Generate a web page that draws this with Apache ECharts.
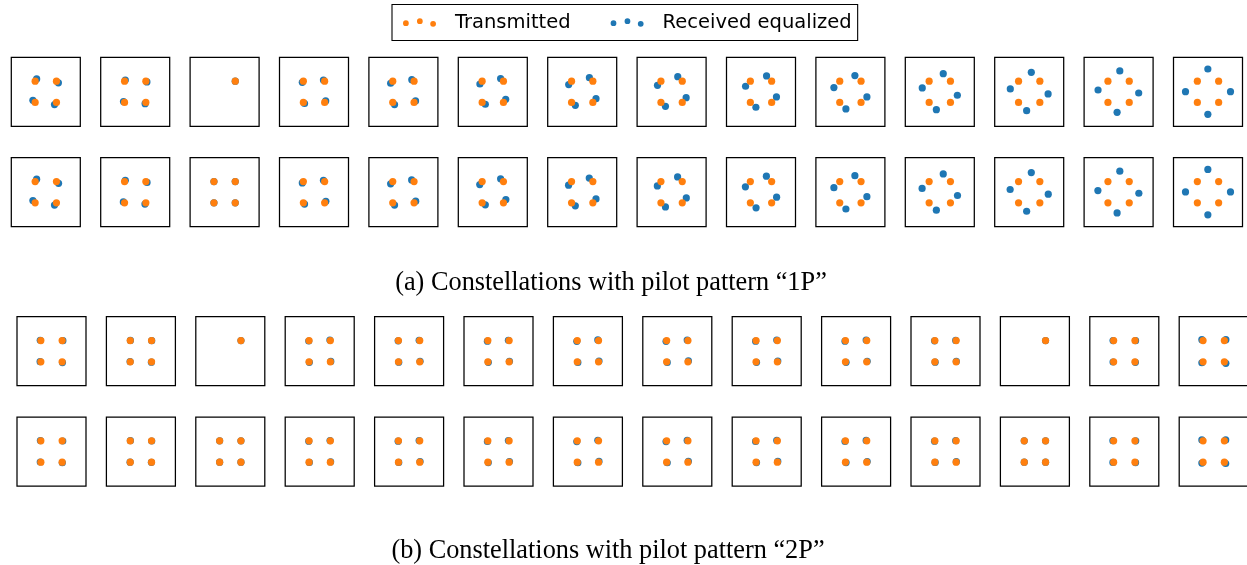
<!DOCTYPE html>
<html>
<head>
<meta charset="utf-8">
<script src="https://cdn.jsdelivr.net/npm/echarts@6/dist/echarts.min.js"></script>
<style>
  html, body { margin: 0; padding: 0; background: #fff; }
  #chart { width: 1247px; height: 565px; }
</style>
</head>
<body>
<div id="chart"></div>
<script>
// QPSK reference points and the single-symbol (pilot) slot
const txQPSK = [[-0.71, 0.71], [0.71, 0.71], [-0.71, -0.71], [0.71, -0.71]];
const txPilot = [[0.71, 0.71]];

// Transmitted symbols per panel (14 panels per row)
const txRowA1 = [txQPSK, txQPSK, txPilot, txQPSK, txQPSK, txQPSK, txQPSK, txQPSK, txQPSK, txQPSK, txQPSK, txQPSK, txQPSK, txQPSK];
const txRowA2 = [txQPSK, txQPSK, txQPSK, txQPSK, txQPSK, txQPSK, txQPSK, txQPSK, txQPSK, txQPSK, txQPSK, txQPSK, txQPSK, txQPSK];
const txRowB1 = [txQPSK, txQPSK, txPilot, txQPSK, txQPSK, txQPSK, txQPSK, txQPSK, txQPSK, txQPSK, txQPSK, txPilot, txQPSK, txQPSK];
const txRowB2 = [txQPSK, txQPSK, txQPSK, txQPSK, txQPSK, txQPSK, txQPSK, txQPSK, txQPSK, txQPSK, txQPSK, txQPSK, txQPSK, txQPSK];

// Received equalized symbols, pilot pattern "1P"
const rxRowA1 = [
  [[-0.61, 0.86], [0.84, 0.60], [-0.86, -0.57], [0.58, -0.85]],
  [[-0.66, 0.78], [0.78, 0.66], [-0.78, -0.65], [0.66, -0.79]],
  [[0.71, 0.71]],
  [[-0.78, 0.63], [0.63, 0.78], [-0.63, -0.78], [0.78, -0.61]],
  [[-0.85, 0.57], [0.56, 0.81], [-0.59, -0.85], [0.81, -0.61]],
  [[-0.86, 0.52], [0.52, 0.88], [-0.50, -0.83], [0.86, -0.50]],
  [[-0.90, 0.48], [0.48, 0.94], [-0.46, -0.90], [0.92, -0.46]],
  [[-0.94, 0.43], [0.41, 1.01], [-0.41, -0.97], [0.97, -0.39]],
  [[-1.03, 0.37], [0.37, 1.06], [-0.34, -1.03], [1.03, -0.34]],
  [[-1.10, 0.28], [0.30, 1.08], [-0.30, -1.14], [1.10, -0.34]],
  [[-1.17, 0.26], [0.23, 1.21], [-0.23, -1.19], [1.17, -0.23]],
  [[-1.26, 0.19], [0.14, 1.30], [-0.17, -1.26], [1.26, -0.14]],
  [[-1.37, 0.12], [0.08, 1.39], [-0.10, -1.37], [1.34, -0.08]],
  [[-1.50, 0.01], [-0.01, 1.52], [-0.01, -1.50], [1.50, 0.01]]
];
const rxRowA2 = [
  [[-0.61, 0.87], [0.85, 0.59], [-0.86, -0.56], [0.58, -0.86]],
  [[-0.66, 0.79], [0.79, 0.65], [-0.79, -0.65], [0.65, -0.79]],
  [[-0.71, 0.71], [0.71, 0.71], [-0.71, -0.71], [0.71, -0.71]],
  [[-0.78, 0.62], [0.63, 0.79], [-0.63, -0.79], [0.79, -0.61]],
  [[-0.85, 0.56], [0.55, 0.82], [-0.59, -0.86], [0.82, -0.60]],
  [[-0.87, 0.51], [0.52, 0.89], [-0.50, -0.84], [0.87, -0.49]],
  [[-0.91, 0.47], [0.47, 0.94], [-0.46, -0.91], [0.92, -0.45]],
  [[-0.95, 0.42], [0.40, 1.02], [-0.41, -0.98], [0.98, -0.38]],
  [[-1.04, 0.36], [0.36, 1.07], [-0.33, -1.04], [1.04, -0.33]],
  [[-1.10, 0.30], [0.30, 1.10], [-0.30, -1.12], [1.10, -0.30]],
  [[-1.18, 0.25], [0.23, 1.22], [-0.23, -1.20], [1.18, -0.22]],
  [[-1.27, 0.18], [0.14, 1.31], [-0.17, -1.27], [1.27, -0.13]],
  [[-1.38, 0.11], [0.08, 1.40], [-0.10, -1.38], [1.35, -0.07]],
  [[-1.50, 0.02], [-0.01, 1.52], [-0.01, -1.51], [1.50, 0.02]]
];

// Received equalized symbols, pilot pattern "2P"
const rxRowB1 = [
  [[-0.75, 0.73], [0.76, 0.70], [-0.76, -0.70], [0.73, -0.76]],
  [[-0.70, 0.72], [0.72, 0.70], [-0.72, -0.70], [0.70, -0.73]],
  [[0.71, 0.71]],
  [[-0.73, 0.68], [0.68, 0.74], [-0.69, -0.74], [0.74, -0.68]],
  [[-0.73, 0.69], [0.67, 0.73], [-0.69, -0.73], [0.73, -0.67]],
  [[-0.74, 0.67], [0.66, 0.73], [-0.68, -0.74], [0.73, -0.67]],
  [[-0.74, 0.66], [0.66, 0.75], [-0.67, -0.75], [0.74, -0.66]],
  [[-0.75, 0.66], [0.66, 0.74], [-0.67, -0.75], [0.74, -0.65]],
  [[-0.74, 0.67], [0.67, 0.74], [-0.68, -0.74], [0.74, -0.66]],
  [[-0.74, 0.67], [0.67, 0.74], [-0.67, -0.74], [0.74, -0.67]],
  [[-0.73, 0.69], [0.68, 0.72], [-0.69, -0.73], [0.72, -0.68]],
  [[0.71, 0.71]],
  [[-0.75, 0.71], [0.75, 0.70], [-0.75, -0.72], [0.74, -0.74]],
  [[-0.79, 0.77], [0.81, 0.77], [-0.79, -0.77], [0.81, -0.81]]
];
const rxRowB2 = [
  [[-0.74, 0.73], [0.75, 0.70], [-0.75, -0.70], [0.72, -0.75]],
  [[-0.70, 0.72], [0.72, 0.70], [-0.72, -0.71], [0.70, -0.72]],
  [[-0.71, 0.71], [0.71, 0.71], [-0.71, -0.71], [0.71, -0.71]],
  [[-0.73, 0.69], [0.69, 0.73], [-0.69, -0.73], [0.73, -0.69]],
  [[-0.73, 0.69], [0.67, 0.73], [-0.69, -0.73], [0.73, -0.67]],
  [[-0.74, 0.67], [0.66, 0.73], [-0.68, -0.74], [0.73, -0.67]],
  [[-0.74, 0.66], [0.66, 0.75], [-0.67, -0.75], [0.74, -0.66]],
  [[-0.75, 0.66], [0.66, 0.74], [-0.67, -0.75], [0.74, -0.65]],
  [[-0.74, 0.67], [0.67, 0.74], [-0.68, -0.74], [0.74, -0.66]],
  [[-0.74, 0.67], [0.67, 0.74], [-0.67, -0.74], [0.74, -0.67]],
  [[-0.73, 0.69], [0.68, 0.72], [-0.69, -0.73], [0.72, -0.68]],
  [[-0.71, 0.71], [0.71, 0.71], [-0.71, -0.71], [0.71, -0.71]],
  [[-0.76, 0.72], [0.76, 0.71], [-0.76, -0.73], [0.75, -0.74]],
  [[-0.79, 0.77], [0.80, 0.77], [-0.79, -0.77], [0.80, -0.80]]
];

const seriesNames = ['Transmitted', 'Received equalized'];
const captions = ['(a) Constellations with pilot pattern \u201c1P\u201d', '(b) Constellations with pilot pattern \u201c2P\u201d'];

// ---- layout / style ----
const AXIS_LIM = 2.3;
const PANEL = 69;
const PITCH = 89.4;
const COLOR_TX = '#ff7f0e';
const COLOR_RX = '#1f77b4';
const rows = [
  { left: 11.3, top: 57.3, tx: txRowA1, rx: rxRowA1 },
  { left: 11.3, top: 157.7, tx: txRowA2, rx: rxRowA2 },
  { left: 17.0, top: 316.7, tx: txRowB1, rx: rxRowB1 },
  { left: 17.0, top: 417.0, tx: txRowB2, rx: rxRowB2 }
];

const grid = [], xAxis = [], yAxis = [], series = [];
rows.forEach(row => {
  row.tx.forEach((txPts, i) => {
    const idx = grid.length;
    grid.push({
      left: row.left + PITCH * i, top: row.top, width: PANEL, height: PANEL,
      show: true, borderColor: '#000', borderWidth: 1.25, backgroundColor: 'transparent',
      containLabel: false, outerBoundsMode: 'none'
    });
    xAxis.push({ gridIndex: idx, type: 'value', min: -AXIS_LIM, max: AXIS_LIM, show: false });
    yAxis.push({ gridIndex: idx, type: 'value', min: -AXIS_LIM, max: AXIS_LIM, show: false });
    series.push({
      type: 'scatter', name: seriesNames[1], xAxisIndex: idx, yAxisIndex: idx,
      data: row.rx[i], symbolSize: 7.2, itemStyle: { color: COLOR_RX, opacity: 1 }, silent: true
    });
    series.push({
      type: 'scatter', name: seriesNames[0], xAxisIndex: idx, yAxisIndex: idx,
      data: txPts, symbolSize: 7.2, itemStyle: { color: COLOR_TX, opacity: 1 }, silent: true
    });
  });
});

// three staggered dots, like a scatter legend handle
const dotsIcon = 'path://M0,4.9a2.9,2.9 0 1,0 5.8,0a2.9,2.9 0 1,0 -5.8,0Z' +
  'M14,2.9a2.9,2.9 0 1,0 5.8,0a2.9,2.9 0 1,0 -5.8,0Z' +
  'M27.3,5.6a2.9,2.9 0 1,0 5.8,0a2.9,2.9 0 1,0 -5.8,0Z';

const chart = echarts.init(document.getElementById('chart'), null, { renderer: 'canvas' });
chart.setOption({
  animation: false,
  backgroundColor: '#fff',
  grid, xAxis, yAxis, series,
  legend: {
    data: seriesNames,
    left: 392, top: 4.5,
    orient: 'horizontal',
    padding: [8, 6, 8, 11],
    itemGap: 40,
    itemWidth: 33, itemHeight: 8.5,
    icon: dotsIcon,
    borderColor: '#000', borderWidth: 1.1, borderRadius: 0,
    selectedMode: false,
    itemStyle: { opacity: 1 },
    formatter: name => '{t|' + name + '}',
    textStyle: {
      fontFamily: 'DejaVu Sans', fontSize: 19.5, color: '#000',
      rich: { t: { fontFamily: 'DejaVu Sans', fontSize: 19.5, color: '#000', padding: [0, 0, 0, 14] } }
    }
  },
  graphic: captions.map((txt, k) => ({
    type: 'text',
    x: [611, 608][k], y: [283, 551][k],
    silent: true,
    style: {
      text: txt,
      font: '26.3px "Liberation Serif"',
      fill: '#000',
      textAlign: 'center', align: 'center',
      textVerticalAlign: 'middle', verticalAlign: 'middle'
    }
  }))
});
</script>
</body>
</html>
